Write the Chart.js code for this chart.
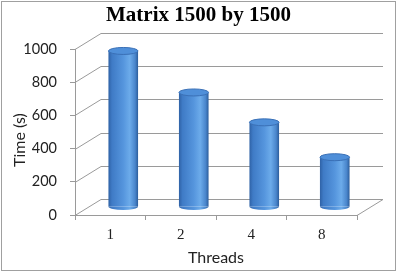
<!DOCTYPE html>
<html><head><meta charset="utf-8">
<script src="https://cdn.jsdelivr.net/npm/chart.js@4"></script>
<style>html,body{margin:0;padding:0;background:#fff}</style>
</head><body>
<canvas id="c" width="397" height="272" style="width:397px;height:272px;display:block"></canvas>
<script>
const categories = ['1', '2', '4', '8'];
const times = [940, 690, 510, 300];
const yTickValues = [0, 200, 400, 600, 800, 1000];

const DX = 26, DY = 16;
const GRID = '#9a9a9a';

function cylGrad(ctx, left, w) {
  const g = ctx.createLinearGradient(left, 0, left + w, 0);
  g.addColorStop(0, '#2f62a6');
  g.addColorStop(0.12, '#3f7bc6');
  g.addColorStop(0.5, '#5595dd');
  g.addColorStop(0.72, '#6cabea');
  g.addColorStop(0.9, '#4a86cc');
  g.addColorStop(1, '#2c5d9b');
  return g;
}

const threeD = {
  id: 'threeD',
  beforeDatasetsDraw(chart) {
    const { ctx, chartArea: a, scales: { y } } = chart;
    ctx.save();
    ctx.strokeStyle = GRID; ctx.lineWidth = 1;
    y.ticks.forEach(t => {
      const py = Math.round(y.getPixelForValue(t.value)) + 0.5;
      ctx.beginPath();
      ctx.moveTo(a.left, py);
      ctx.lineTo(a.left + DX, py - DY);
      ctx.lineTo(a.right + DX, py - DY);
      ctx.stroke();
    });
    const pb = Math.round(a.bottom) + 0.5;
    ctx.beginPath();
    ctx.moveTo(a.right, pb);
    ctx.lineTo(a.right + DX, pb - DY);
    ctx.stroke();
    ctx.restore();
    ctx.save();
    ctx.translate(DX / 2, -DY / 2);
  },
  afterDatasetsDraw(chart) {
    const { ctx } = chart;
    ctx.restore();
    const meta = chart.getDatasetMeta(0);
    ctx.save();
    ctx.translate(DX / 2, -DY / 2);
    meta.data.forEach(el => {
      const w = el.width, left = el.x - w / 2, ry = 3.5;
      ctx.fillStyle = cylGrad(ctx, left, w);
      ctx.beginPath();
      ctx.ellipse(el.x, el.base, w / 2, ry, 0, 0, Math.PI);
      ctx.fill();
      ctx.beginPath();
      ctx.ellipse(el.x, el.y, w / 2, ry, 0, 0, Math.PI * 2);
      ctx.fillStyle = '#4f8fd9';
      ctx.fill();
      ctx.strokeStyle = '#3a70b6';
      ctx.lineWidth = 1;
      ctx.stroke();
    });
    ctx.restore();
  },
  afterDraw(chart) {
    const { ctx } = chart;
    ctx.save();
    ctx.translate(20, 140);
    ctx.rotate(-Math.PI / 2);
    ctx.fillStyle = '#222';
    ctx.font = '16px Lato';
    ctx.textAlign = 'center';
    ctx.textBaseline = 'middle';
    ctx.fillText('Time (s)', 0, 0);
    ctx.restore();
    ctx.save();
    ctx.strokeStyle = '#a0a0a0';
    ctx.lineWidth = 1;
    ctx.strokeRect(1.5, 1.5, 394, 269);
    ctx.restore();
  }
};

new Chart(document.getElementById('c'), {
  type: 'bar',
  data: {
    labels: categories,
    datasets: [{
      data: times,
      backgroundColor: (c) => {
        const xs = c.chart.scales.x;
        if (!xs || xs.width === undefined) return '#4a8bd6';
        const cx = xs.getPixelForValue(c.dataIndex);
        const w = xs.width / categories.length * 0.42;
        return cylGrad(c.chart.ctx, cx - w / 2, w);
      },
      borderWidth: 0,
      categoryPercentage: 1,
      barPercentage: 0.42
    }]
  },
  options: {
    responsive: false,
    animation: false,
    devicePixelRatio: 1,
    layout: { padding: 0 },
    plugins: {
      legend: { display: false },
      tooltip: { enabled: false },
      title: {
        display: true,
        text: 'Matrix 1500 by 1500',
        color: '#000',
        font: { family: 'Liberation Serif', size: 21, weight: 'bold' },
        padding: { top: 3, bottom: 20.8 }
      }
    },
    scales: {
      x: {
        type: 'category',
        offset: true,
        grid: { drawOnChartArea: false, drawTicks: true, tickLength: 5, color: GRID, offset: true },
        border: { color: GRID },
        ticks: { color: '#222', font: { family: 'Liberation Serif', size: 15 }, padding: 6 },
        title: { display: true, text: 'Threads', color: '#222', font: { family: 'Lato', size: 16 }, padding: { top: 0, bottom: 5 } },
        afterFit(s) { s.height = 57; }
      },
      y: {
        min: 0, max: 1000,
        afterBuildTicks(s) { s.ticks = yTickValues.map(v => ({ value: v })); },
        grid: { drawOnChartArea: false, drawTicks: true, tickLength: 5, color: GRID },
        border: { color: GRID },
        ticks: { color: '#222', font: { family: 'Lato', size: 14.5 }, padding: 13, callback: v => String(v) },
        afterFit(s) { s.width = 75; }
      },
      yRight: {
        position: 'right',
        display: true,
        grid: { display: false },
        border: { display: false },
        ticks: { display: false },
        afterFit(s) { s.width = 40; }
      }
    }
  },
  plugins: [threeD]
});
</script>
</body></html>
